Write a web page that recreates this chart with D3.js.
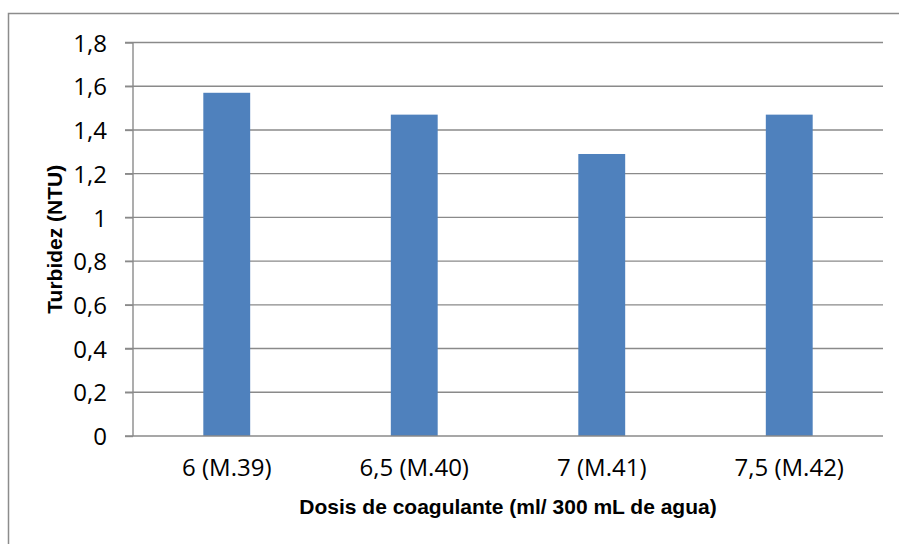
<!DOCTYPE html>
<html>
<head>
<meta charset="utf-8">
<script src="https://cdn.jsdelivr.net/npm/d3@7"></script>
<style>
  html, body { margin: 0; padding: 0; background: #fff; }
  svg { display: block; }
</style>
</head>
<body>
<svg id="chart" width="899" height="544"></svg>
<script>
const categories = ["6 (M.39)", "6,5 (M.40)", "7 (M.41)", "7,5 (M.42)"];
const values = [1.57, 1.47, 1.29, 1.47];
const yTicks = [0, 0.2, 0.4, 0.6, 0.8, 1, 1.2, 1.4, 1.6, 1.8];
const xTitle = "Dosis de coagulante (ml/ 300 mL de agua)";
const yTitle = "Turbidez (NTU)";

(function () {
const svg = d3.select("#chart");
const pL = 133, pR = 883, pT = 42.5, pB = 436;
const gridColor = "#8a8a8a";
const tickFont = "Open Sans";
const titleFont = "Liberation Sans";

// outer border (only top and left visible)
svg.append("rect")
  .attr("x", 8.5).attr("y", 13.5)
  .attr("width", 1000).attr("height", 1000)
  .attr("fill", "none").attr("stroke", "#8c8c8c").attr("stroke-width", 1.5);

const x = d3.scaleBand().domain(categories).range([pL, pR]).paddingInner(0.75).paddingOuter(0.375);
const y = d3.scaleLinear().domain([0, 1.8]).range([pB, pT]);

// gridlines
svg.append("g").selectAll("line").data(yTicks.filter(d => d > 0)).join("line")
  .attr("x1", pL - 8).attr("x2", pR)
  .attr("y1", d => y(d)).attr("y2", d => y(d))
  .attr("stroke", gridColor).attr("stroke-width", 1.4);

// bars
svg.append("g").selectAll("rect").data(values).join("rect")
  .attr("x", (d, i) => x(categories[i]))
  .attr("width", x.bandwidth())
  .attr("y", d => y(d))
  .attr("height", d => y(0) - y(d))
  .attr("fill", "#4f81bd");

// y axis
const yAxis = d3.axisLeft(y).tickValues(yTicks).tickSize(8).tickPadding(18)
  .tickFormat(d => d3.format("~g")(d).replace(".", ","));
const gy = svg.append("g").attr("transform", `translate(${pL},0)`).call(yAxis);
gy.select(".domain").attr("stroke", gridColor).attr("stroke-width", 1.4).attr("d", `M0,${pT}V${pB}`);
gy.selectAll(".tick line").attr("stroke", gridColor).attr("stroke-width", 1.4);
gy.selectAll(".tick text").attr("font-family", tickFont).attr("font-size", 24).attr("fill", "#000").attr("dy", "0.36em");

// x axis
const xAxis = d3.axisBottom(x).tickSize(0).tickPadding(23);
const gx = svg.append("g").attr("transform", `translate(0,${pB})`).call(xAxis);
gx.select(".domain").attr("stroke", gridColor).attr("stroke-width", 1.4).attr("d", `M${pL - 8},0H${pR}`);
gx.selectAll(".tick text").attr("font-family", tickFont).attr("font-size", 24).attr("fill", "#000");

// titles
svg.append("text")
  .attr("x", 508).attr("y", 514)
  .attr("text-anchor", "middle")
  .attr("font-family", titleFont).attr("font-weight", "bold").attr("font-size", 21)
  .text(xTitle);

svg.append("text")
  .attr("transform", `translate(62,${(pT + pB) / 2}) rotate(-90)`)
  .attr("text-anchor", "middle")
  .attr("font-family", titleFont).attr("font-weight", "bold").attr("font-size", 21)
  .text(yTitle);
})();
</script>
</body>
</html>
